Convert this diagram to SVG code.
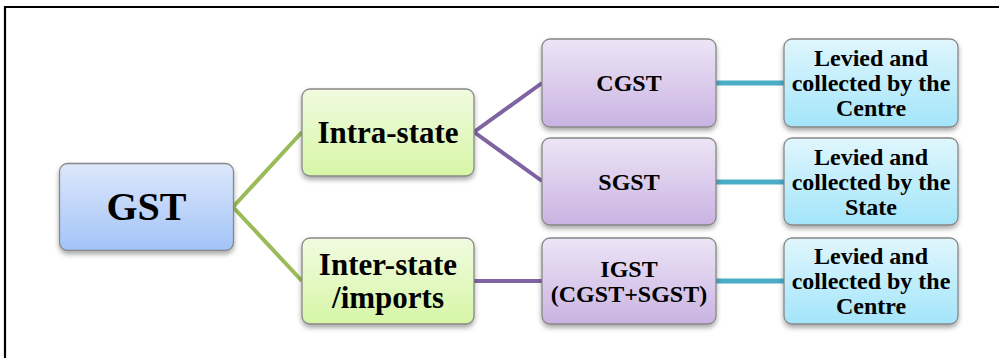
<svg xmlns="http://www.w3.org/2000/svg" width="999" height="358" viewBox="0 0 999 358">
<defs>
<linearGradient id="gBlue" x1="0" y1="0" x2="0" y2="1"><stop offset="0" stop-color="#dde8fb"/><stop offset="1" stop-color="#a2c3f8"/></linearGradient>
<linearGradient id="gGreen" x1="0" y1="0" x2="0" y2="1"><stop offset="0" stop-color="#f1fbe0"/><stop offset="1" stop-color="#d6f6a6"/></linearGradient>
<linearGradient id="gPurple" x1="0" y1="0" x2="0" y2="1"><stop offset="0" stop-color="#ede5f6"/><stop offset="1" stop-color="#c9b3e2"/></linearGradient>
<linearGradient id="gCyan" x1="0" y1="0" x2="0" y2="1"><stop offset="0" stop-color="#e0f6fd"/><stop offset="1" stop-color="#a3e5fa"/></linearGradient>
<filter id="sh" x="-10%" y="-10%" width="120%" height="130%"><feDropShadow dx="0" dy="3" stdDeviation="2.5" flood-color="#000" flood-opacity="0.35"/></filter>
</defs>
<style>
.box{stroke:#878787;stroke-width:1.3;filter:url(#sh)}
.t{font-family:'Liberation Serif',serif;font-weight:700;fill:#000;text-anchor:middle}
.g{stroke:#9bbb59;stroke-width:4;fill:none}
.p{stroke:#8064a2;stroke-width:4;fill:none}
.c{stroke:#4bacc6;stroke-width:5;fill:none}
</style>
<rect width="999" height="358" fill="#fff"/>
<path d="M5,358 V7 H999" fill="none" stroke="#000" stroke-width="2.2"/>
<g id="connectors">
<path class="g" d="M302,132 L233,207 L302,281"/>
<path class="p" d="M542,83 L474,132 L542,181"/>
<path class="p" d="M474,281 L542,281"/>
<path class="c" d="M716,83 H784"/>
<path class="c" d="M716,182 H784"/>
<path class="c" d="M716,281 H784"/>
</g>
<g id="gst"><rect class="box" x="59.5" y="163.5" width="174" height="87" rx="8" fill="url(#gBlue)"/><text class="t" font-family="Liberation Serif" x="146.5" y="220" font-size="40">GST</text></g>
<g id="intra"><rect class="box" x="302" y="89" width="172" height="87" rx="8" fill="url(#gGreen)"/><text class="t" font-family="Liberation Serif" x="388" y="143" font-size="31">Intra-state</text></g>
<g id="inter"><rect class="box" x="302" y="238" width="172" height="86" rx="8" fill="url(#gGreen)"/><text class="t" font-family="Liberation Serif" x="388" y="275" font-size="31">Inter-state</text><text class="t" font-family="Liberation Serif" x="388" y="308" font-size="31">/imports</text></g>
<g id="cgst"><rect class="box" x="542" y="39" width="174" height="88" rx="8" fill="url(#gPurple)"/><text class="t" font-family="Liberation Serif" x="629" y="91" font-size="24">CGST</text></g>
<g id="sgst"><rect class="box" x="542" y="138" width="174" height="87" rx="8" fill="url(#gPurple)"/><text class="t" font-family="Liberation Serif" x="629" y="190" font-size="24">SGST</text></g>
<g id="igst"><rect class="box" x="542" y="238" width="174" height="86" rx="8" fill="url(#gPurple)"/><text class="t" font-family="Liberation Serif" x="629" y="277" font-size="24">IGST</text><text class="t" font-family="Liberation Serif" x="629" y="302" font-size="24">(CGST+SGST)</text></g>
<g id="lev1"><rect class="box" x="784" y="39" width="174" height="88" rx="8" fill="url(#gCyan)"/><text class="t" font-family="Liberation Serif" x="871" y="66" font-size="24">Levied and</text><text class="t" font-family="Liberation Serif" x="871" y="91" font-size="24">collected by the</text><text class="t" font-family="Liberation Serif" x="871" y="116" font-size="24">Centre</text></g>
<g id="lev2"><rect class="box" x="784" y="138" width="174" height="87" rx="8" fill="url(#gCyan)"/><text class="t" font-family="Liberation Serif" x="871" y="165" font-size="24">Levied and</text><text class="t" font-family="Liberation Serif" x="871" y="190" font-size="24">collected by the</text><text class="t" font-family="Liberation Serif" x="871" y="215" font-size="24">State</text></g>
<g id="lev3"><rect class="box" x="784" y="238" width="174" height="86" rx="8" fill="url(#gCyan)"/><text class="t" font-family="Liberation Serif" x="871" y="264" font-size="24">Levied and</text><text class="t" font-family="Liberation Serif" x="871" y="289" font-size="24">collected by the</text><text class="t" font-family="Liberation Serif" x="871" y="314" font-size="24">Centre</text></g>
</svg>
